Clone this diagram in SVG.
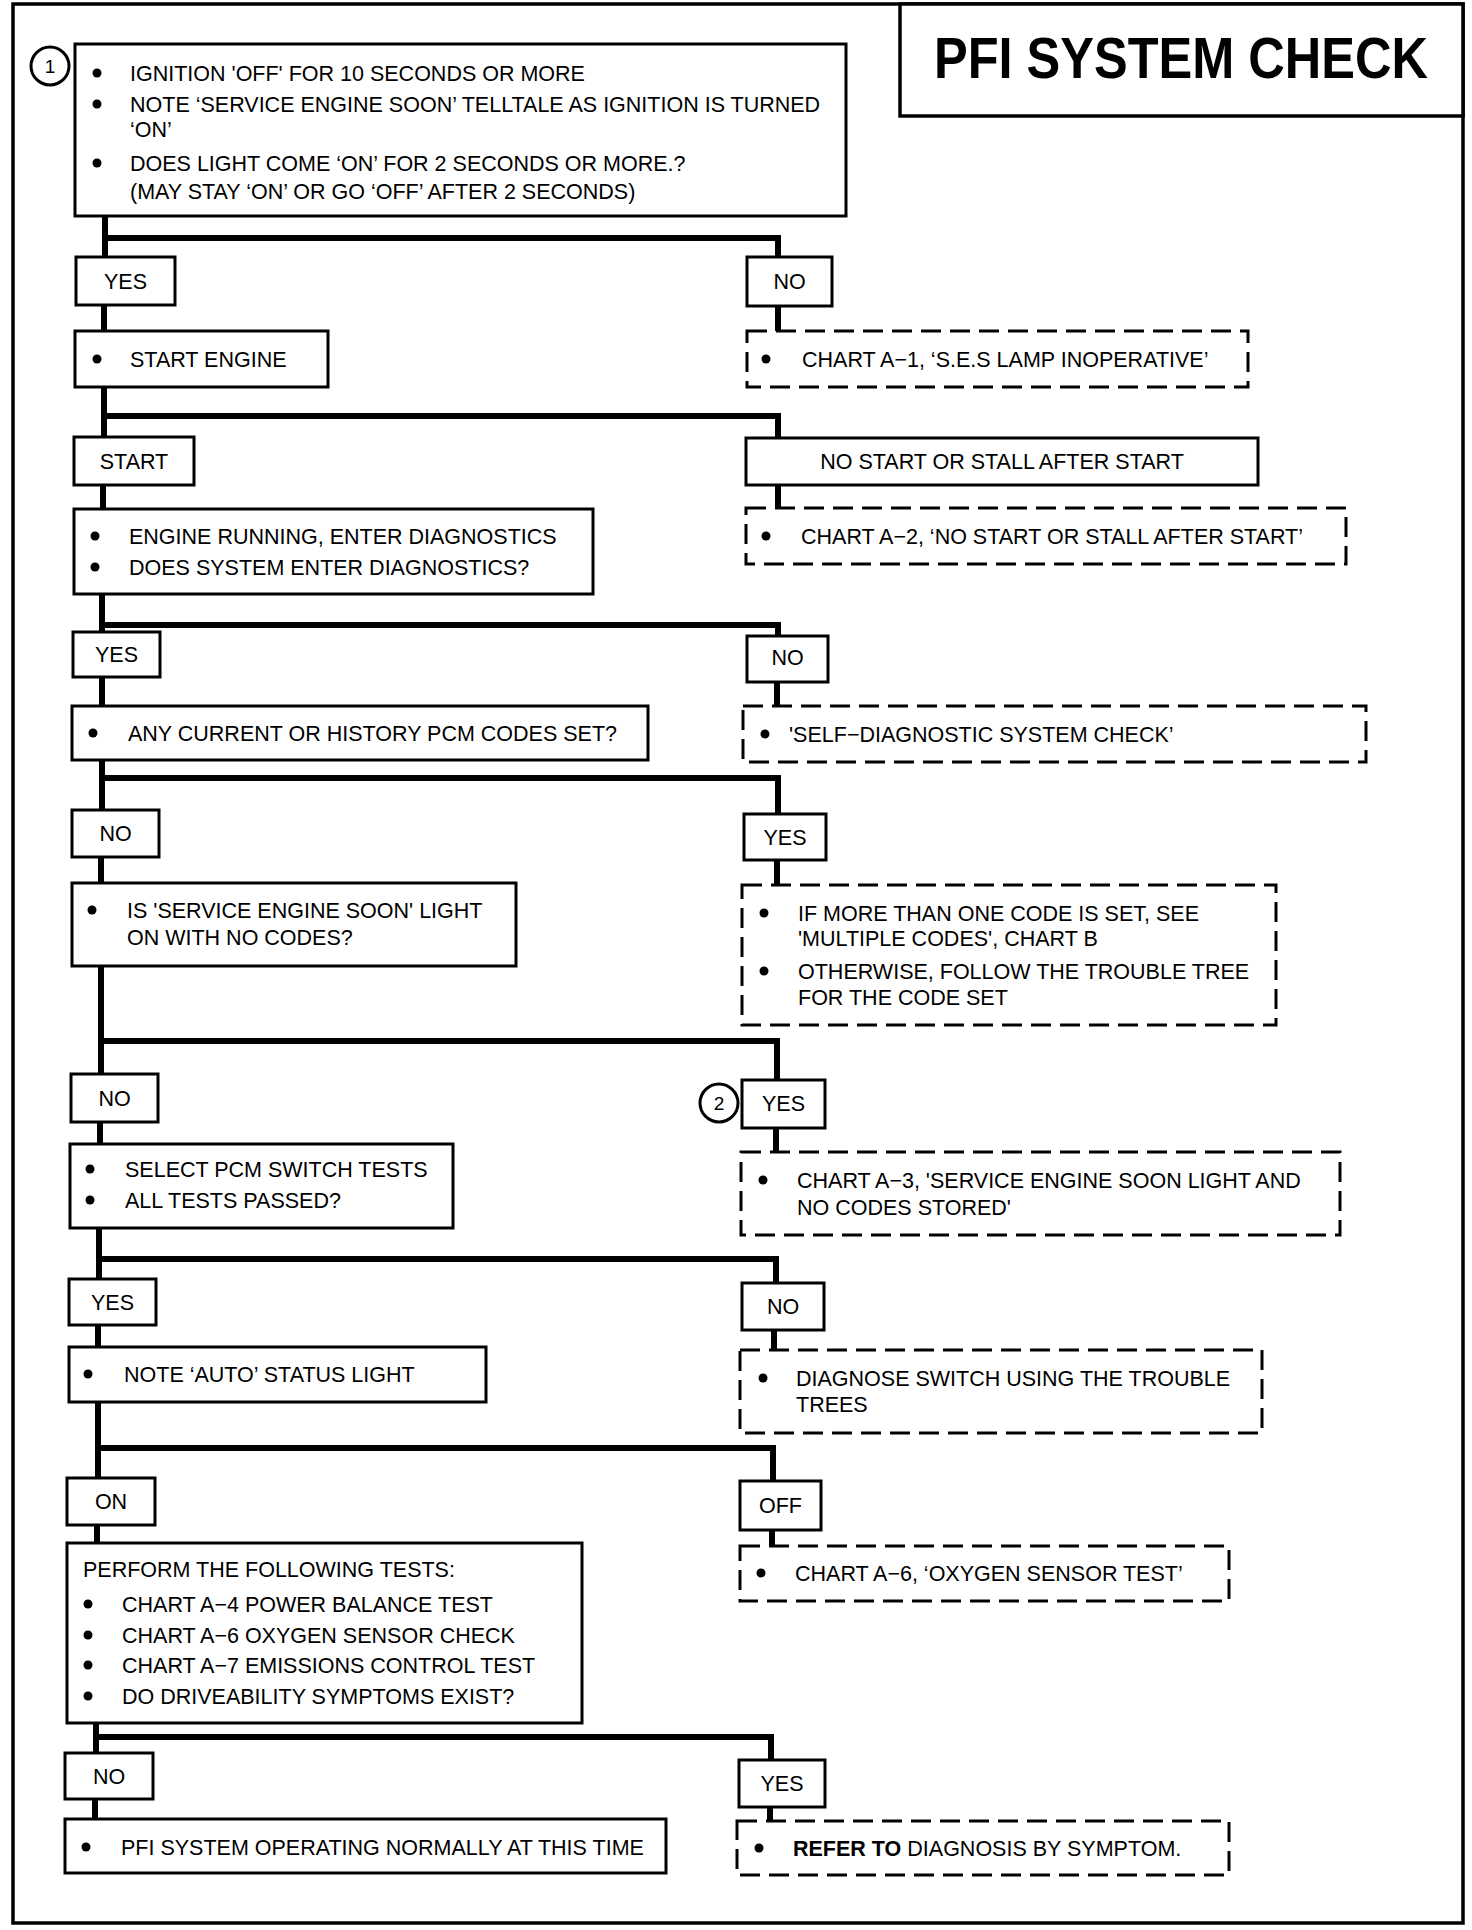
<svg xmlns="http://www.w3.org/2000/svg" width="1472" height="1930" viewBox="0 0 1472 1930">
<style>
.frame{fill:none;stroke:#000;stroke-width:3.5}
.box{fill:#fff;stroke:#000;stroke-width:3}
.dbox{fill:#fff;stroke:#000;stroke-width:3;stroke-dasharray:20 9}
.t{font-family:"Liberation Sans",Arial,sans-serif;font-size:21.5px;fill:#000}
.l{font-family:"Liberation Sans",Arial,sans-serif;font-size:21.5px;fill:#000;text-anchor:middle}
.title{font-family:"Liberation Sans",Arial,sans-serif;font-size:50px;font-weight:bold;fill:#000}
.conn{fill:none;stroke:#000;stroke-width:6;stroke-linejoin:miter;stroke-linecap:butt}
.b{fill:#000}
.circ{fill:#fff;stroke:#000;stroke-width:3}
</style>
<rect x="0" y="0" width="1472" height="1930" fill="#fff"/>
<rect class="frame" x="13" y="4" width="1450" height="1919"/>

<g id="connectors">
  <path class="conn" d="M105 216 V257 M105 238 H778 V257"/>
  <path class="conn" d="M778 306 V331"/>
  <path class="conn" d="M104 305 V331"/>
  <path class="conn" d="M104 387 V437 M104 416 H778 V438"/>
  <path class="conn" d="M103 485 V509"/>
  <path class="conn" d="M778 485 V508"/>
  <path class="conn" d="M102 594 V632 M102 625 H778 V636"/>
  <path class="conn" d="M777 682 V706"/>
  <path class="conn" d="M102 677 V706"/>
  <path class="conn" d="M102 760 V810 M102 778 H778 V814"/>
  <path class="conn" d="M777 860 V885"/>
  <path class="conn" d="M101 857 V883"/>
  <path class="conn" d="M101 966 V1074 M101 1041 H777 V1080"/>
  <path class="conn" d="M776 1128 V1152"/>
  <path class="conn" d="M100 1122 V1144"/>
  <path class="conn" d="M99 1228 V1279 M99 1259 H776 V1283"/>
  <path class="conn" d="M774 1330 V1350"/>
  <path class="conn" d="M98 1325 V1347"/>
  <path class="conn" d="M98 1402 V1478 M98 1448 H773 V1481"/>
  <path class="conn" d="M772 1530 V1546"/>
  <path class="conn" d="M97 1525 V1543"/>
  <path class="conn" d="M96 1723 V1753 M96 1737 H771 V1760"/>
  <path class="conn" d="M770 1807 V1821"/>
  <path class="conn" d="M95 1799 V1819"/>
</g>

<g id="title">
  <rect class="box" x="900" y="4" width="563" height="112" style="stroke-width:3.5"/>
  <text class="title" x="934" y="67.8" transform="scale(1 1.15)" textLength="494" lengthAdjust="spacingAndGlyphs">PFI SYSTEM CHECK</text>
</g>

<g id="marker1">
  <circle class="circ" cx="50" cy="66" r="19"/>
  <text class="l" x="50" y="73" style="font-size:19px">1</text>
</g>

<g id="n1">
  <rect class="box" x="75" y="44" width="771" height="172"/>
  <circle class="b" cx="97" cy="73" r="4.5"/>
  <text class="t" x="130" y="81">IGNITION 'OFF' FOR 10 SECONDS OR MORE</text>
  <circle class="b" cx="97" cy="104" r="4.5"/>
  <text class="t" x="130" y="112">NOTE ‘SERVICE ENGINE SOON’ TELLTALE AS IGNITION IS TURNED</text>
  <text class="t" x="130" y="137">‘ON’</text>
  <circle class="b" cx="97" cy="163" r="4.5"/>
  <text class="t" x="130" y="171">DOES LIGHT COME ‘ON’ FOR 2 SECONDS OR MORE.?</text>
  <text class="t" x="130" y="199">(MAY STAY ‘ON’ OR GO ‘OFF’ AFTER 2 SECONDS)</text>
</g>

<g id="yes1"><rect class="box" x="76" y="257" width="99" height="48"/><text class="l" x="125.5" y="289">YES</text></g>
<g id="no1"><rect class="box" x="747" y="257" width="85" height="49"/><text class="l" x="789.5" y="289">NO</text></g>

<g id="startEngine">
  <rect class="box" x="75" y="331" width="253" height="56"/>
  <circle class="b" cx="97" cy="359" r="4.5"/>
  <text class="t" x="130" y="367">START ENGINE</text>
</g>
<g id="chartA1">
  <rect class="dbox" x="747" y="331" width="501" height="56"/>
  <circle class="b" cx="766" cy="359" r="4.5"/>
  <text class="t" x="802" y="367">CHART A−1, ‘S.E.S LAMP INOPERATIVE’</text>
</g>

<g id="start"><rect class="box" x="74" y="437" width="120" height="48"/><text class="l" x="134" y="469">START</text></g>
<g id="noStart"><rect class="box" x="746" y="438" width="512" height="47"/><text class="l" x="1002" y="469">NO START OR STALL AFTER START</text></g>

<g id="engineRunning">
  <rect class="box" x="74" y="509" width="519" height="85"/>
  <circle class="b" cx="95" cy="536" r="4.5"/>
  <text class="t" x="129" y="544">ENGINE RUNNING, ENTER DIAGNOSTICS</text>
  <circle class="b" cx="95" cy="567" r="4.5"/>
  <text class="t" x="129" y="575">DOES SYSTEM ENTER DIAGNOSTICS?</text>
</g>
<g id="chartA2">
  <rect class="dbox" x="746" y="508" width="600" height="56"/>
  <circle class="b" cx="766" cy="536" r="4.5"/>
  <text class="t" x="801" y="544">CHART A−2, ‘NO START OR STALL AFTER START’</text>
</g>

<g id="yes2"><rect class="box" x="73" y="632" width="87" height="45"/><text class="l" x="116.5" y="662">YES</text></g>
<g id="no2"><rect class="box" x="747" y="636" width="81" height="46"/><text class="l" x="787.5" y="665">NO</text></g>

<g id="anyCodes">
  <rect class="box" x="72" y="706" width="576" height="54"/>
  <circle class="b" cx="93" cy="733" r="4.5"/>
  <text class="t" x="128" y="741">ANY CURRENT OR HISTORY PCM CODES SET?</text>
</g>
<g id="selfDiag">
  <rect class="dbox" x="743" y="706" width="623" height="56"/>
  <circle class="b" cx="765" cy="734" r="4.5"/>
  <text class="t" x="789" y="742">'SELF−DIAGNOSTIC SYSTEM CHECK’</text>
</g>

<g id="no3"><rect class="box" x="72" y="810" width="87" height="47"/><text class="l" x="115.5" y="841">NO</text></g>
<g id="yes3"><rect class="box" x="744" y="814" width="82" height="46"/><text class="l" x="785" y="845">YES</text></g>

<g id="sesLight">
  <rect class="box" x="72" y="883" width="444" height="83"/>
  <circle class="b" cx="92" cy="910" r="4.5"/>
  <text class="t" x="127" y="918">IS 'SERVICE ENGINE SOON' LIGHT</text>
  <text class="t" x="127" y="945">ON WITH NO CODES?</text>
</g>
<g id="multipleCodes">
  <rect class="dbox" x="742" y="885" width="534" height="140"/>
  <circle class="b" cx="764" cy="913" r="4.5"/>
  <text class="t" x="798" y="921">IF MORE THAN ONE CODE IS SET, SEE</text>
  <text class="t" x="798" y="946">'MULTIPLE CODES', CHART B</text>
  <circle class="b" cx="764" cy="971" r="4.5"/>
  <text class="t" x="798" y="979">OTHERWISE, FOLLOW THE TROUBLE TREE</text>
  <text class="t" x="798" y="1005">FOR THE CODE SET</text>
</g>

<g id="no4"><rect class="box" x="71" y="1074" width="87" height="48"/><text class="l" x="114.5" y="1106">NO</text></g>
<g id="marker2">
  <circle class="circ" cx="719" cy="1103" r="19"/>
  <text class="l" x="719" y="1110" style="font-size:19px">2</text>
</g>
<g id="yes4"><rect class="box" x="742" y="1080" width="83" height="48"/><text class="l" x="783.5" y="1111">YES</text></g>

<g id="switchTests">
  <rect class="box" x="70" y="1144" width="383" height="84"/>
  <circle class="b" cx="90" cy="1169" r="4.5"/>
  <text class="t" x="125" y="1177">SELECT PCM SWITCH TESTS</text>
  <circle class="b" cx="90" cy="1200" r="4.5"/>
  <text class="t" x="125" y="1208">ALL TESTS PASSED?</text>
</g>
<g id="chartA3">
  <rect class="dbox" x="741" y="1152" width="599" height="83"/>
  <circle class="b" cx="763" cy="1180" r="4.5"/>
  <text class="t" x="797" y="1188">CHART A−3, 'SERVICE ENGINE SOON LIGHT AND</text>
  <text class="t" x="797" y="1215">NO CODES STORED'</text>
</g>

<g id="yes5"><rect class="box" x="69" y="1279" width="87" height="46"/><text class="l" x="112.5" y="1310">YES</text></g>
<g id="no5"><rect class="box" x="742" y="1283" width="82" height="47"/><text class="l" x="783" y="1314">NO</text></g>

<g id="autoLight">
  <rect class="box" x="69" y="1347" width="417" height="55"/>
  <circle class="b" cx="88" cy="1374" r="4.5"/>
  <text class="t" x="124" y="1382">NOTE ‘AUTO’ STATUS LIGHT</text>
</g>
<g id="diagnoseSwitch">
  <rect class="dbox" x="740" y="1350" width="522" height="83"/>
  <circle class="b" cx="763" cy="1378" r="4.5"/>
  <text class="t" x="796" y="1386">DIAGNOSE SWITCH USING THE TROUBLE</text>
  <text class="t" x="796" y="1412">TREES</text>
</g>

<g id="on"><rect class="box" x="67" y="1478" width="88" height="47"/><text class="l" x="111" y="1509">ON</text></g>
<g id="off"><rect class="box" x="740" y="1481" width="81" height="49"/><text class="l" x="780.5" y="1513">OFF</text></g>

<g id="performTests">
  <rect class="box" x="67" y="1543" width="515" height="180"/>
  <text class="t" x="83" y="1577">PERFORM THE FOLLOWING TESTS:</text>
  <circle class="b" cx="88" cy="1604" r="4.5"/>
  <text class="t" x="122" y="1612">CHART A−4 POWER BALANCE TEST</text>
  <circle class="b" cx="88" cy="1635" r="4.5"/>
  <text class="t" x="122" y="1643">CHART A−6 OXYGEN SENSOR CHECK</text>
  <circle class="b" cx="88" cy="1665" r="4.5"/>
  <text class="t" x="122" y="1673">CHART A−7 EMISSIONS CONTROL TEST</text>
  <circle class="b" cx="88" cy="1696" r="4.5"/>
  <text class="t" x="122" y="1704">DO DRIVEABILITY SYMPTOMS EXIST?</text>
</g>
<g id="chartA6">
  <rect class="dbox" x="740" y="1546" width="489" height="55"/>
  <circle class="b" cx="761" cy="1573" r="4.5"/>
  <text class="t" x="795" y="1581">CHART A−6, ‘OXYGEN SENSOR TEST’</text>
</g>

<g id="no6"><rect class="box" x="65" y="1753" width="88" height="46"/><text class="l" x="109" y="1784">NO</text></g>
<g id="yes6"><rect class="box" x="739" y="1760" width="86" height="47"/><text class="l" x="782" y="1791">YES</text></g>

<g id="operatingNormally">
  <rect class="box" x="65" y="1819" width="601" height="54"/>
  <circle class="b" cx="86" cy="1847" r="4.5"/>
  <text class="t" x="121" y="1855">PFI SYSTEM OPERATING NORMALLY AT THIS TIME</text>
</g>
<g id="referSymptom">
  <rect class="dbox" x="737" y="1821" width="492" height="54"/>
  <circle class="b" cx="759" cy="1848" r="4.5"/>
  <text class="t" x="793" y="1856"><tspan font-weight="bold">REFER TO</tspan> DIAGNOSIS BY SYMPTOM.</text>
</g>
</svg>
